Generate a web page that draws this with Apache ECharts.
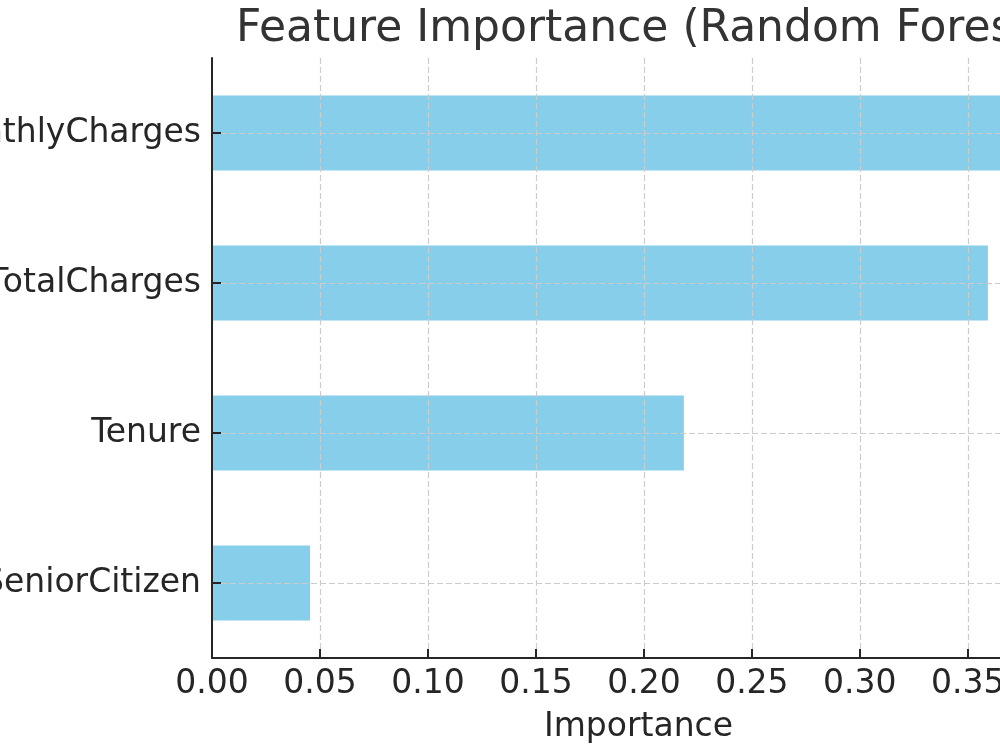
<!DOCTYPE html>
<html>
<head>
<meta charset="utf-8">
<script src="https://cdn.jsdelivr.net/npm/echarts@6/dist/echarts.min.js"></script>
<style>
  html, body { margin: 0; padding: 0; background: #fff; }
  #chart { width: 1000px; height: 750px; }
</style>
</head>
<body>
<div id="chart"></div>
<script>
// 特征重要性 (随机森林)
var features = ['SeniorCitizen', 'Tenure', 'TotalCharges', 'MonthlyCharges'];
var importance = [0.0454, 0.2185, 0.3593, 0.3768];
var xTicks = [0, 0.05, 0.10, 0.15, 0.20, 0.25, 0.30, 0.35];

var font = 'DejaVu Sans';
var gridLine = { show: true, lineStyle: { color: '#cccccc', width: 1.2, type: [6, 3] } };

var option = {
    backgroundColor: '#ffffff',
    animation: false,
    title: {
        text: 'Feature Importance (Random Forest)',
        left: 231,
        top: 3,
        textStyle: { fontFamily: font, fontSize: 44, fontWeight: 'normal', color: '#333333' }
    },
    grid: { left: 212, top: 58, right: -65, bottom: 92, containLabel: false, outerBoundsMode: 'none' },
    xAxis: {
        type: 'value',
        min: 0,
        max: 0.395,
        interval: 0.05,
        z: 5,
        name: 'Importance',
        nameLocation: 'middle',
        nameGap: 53,
        nameTextStyle: { fontFamily: font, fontSize: 33, color: '#262626' },
        axisLine: { show: true, lineStyle: { color: '#262626', width: 2 } },
        axisTick: { show: true, inside: true, length: 9, lineStyle: { color: '#262626', width: 2 } },
        axisLabel: {
            fontFamily: font, fontSize: 33, color: '#262626', margin: 10,
            formatter: function (v) {
                return xTicks.some(function (t) { return Math.abs(t - v) < 1e-9; }) ? v.toFixed(2) : '';
            }
        },
        splitLine: gridLine
    },
    yAxis: {
        type: 'category',
        data: features,
        z: 5,
        axisLine: { show: true, lineStyle: { color: '#262626', width: 2 } },
        axisTick: { show: true, inside: true, alignWithLabel: true, length: 9, lineStyle: { color: '#262626', width: 2 } },
        axisLabel: { fontFamily: font, fontSize: 33, color: '#262626', margin: 11 },
        splitLine: { show: true, alignWithLabel: true, lineStyle: gridLine.lineStyle }
    },
    series: [{
        type: 'bar',
        data: importance,
        barWidth: '50%',
        itemStyle: { color: '#87ceeb' },
        z: 1
    }]
};

var myChart = echarts.init(document.getElementById('chart'));
myChart.setOption(option);
</script>
</body>
</html>
